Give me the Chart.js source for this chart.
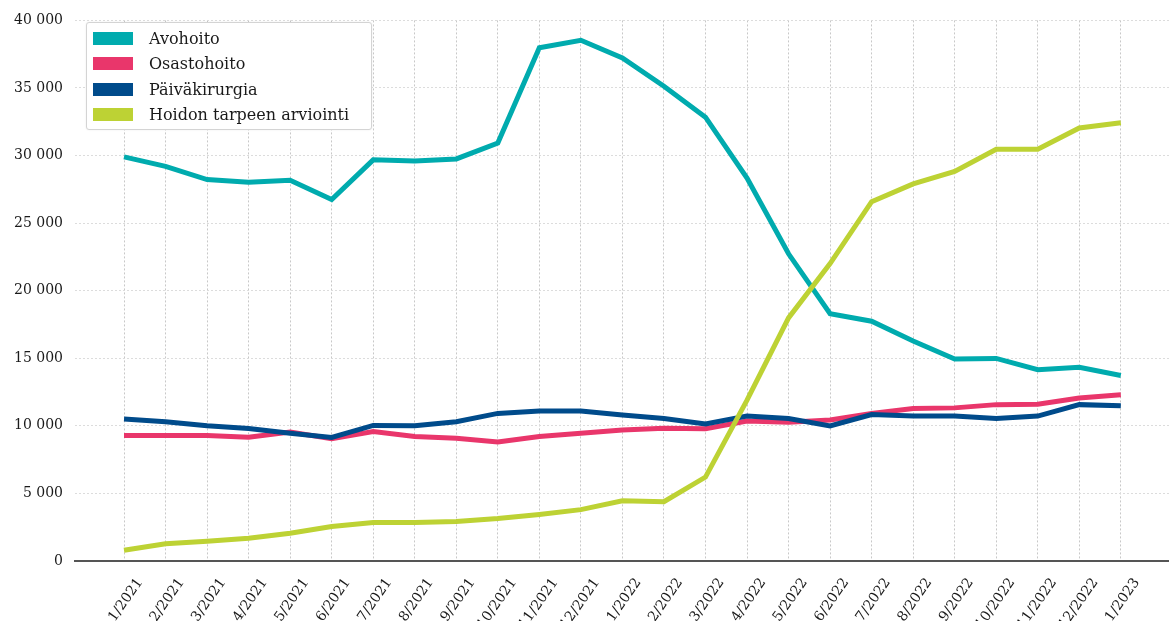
<!DOCTYPE html>
<html>
<head>
<meta charset="utf-8">
<script src="https://cdn.jsdelivr.net/npm/chart.js@4/dist/chart.umd.min.js"></script>
<style>
  html, body { margin: 0; padding: 0; background: #fff; }
  #wrap { position: relative; width: 1169px; height: 621px; }
  #legend {
    position: absolute; left: 86px; top: 22px; width: 284px; height: 106px;
    border: 1px solid #d4d4d4; border-radius: 3px; background: #fff;
    box-shadow: 0 0 2px rgba(0,0,0,0.08);
    font-family: "DejaVu Serif", serif; font-size: 16px; color: #1a1a1a;
    box-sizing: content-box;
  }
  .item { position: absolute; left: 6px; height: 20px; display: flex; align-items: center; }
  .sw { width: 40px; height: 13px; margin-right: 16px; }
</style>
</head>
<body>
<div id="wrap">
  <canvas id="c" width="1169" height="621"></canvas>
  <div id="legend"></div>
</div>
<script>
const labels = ['1/2021','2/2021','3/2021','4/2021','5/2021','6/2021','7/2021','8/2021','9/2021','10/2021','11/2021','12/2021',
  '1/2022','2/2022','3/2022','4/2022','5/2022','6/2022','7/2022','8/2022','9/2022','10/2022','11/2022','12/2022','1/2023'];
const seriesNames = ['Avohoito', 'Osastohoito', 'Päiväkirurgia', 'Hoidon tarpeen arviointi'];
const avohoito = [29900, 29200, 28220, 28020, 28170, 26750, 29680, 29600, 29750, 30930, 37970, 38530,
  37230, 35130, 32840, 28340, 22730, 18300, 17740, 16280, 14940, 14990, 14160, 14330, 13720];
const osastohoito = [9280, 9280, 9280, 9160, 9550, 9040, 9580, 9210, 9090, 8800, 9210, 9450,
  9700, 9820, 9780, 10360, 10260, 10430, 10920, 11280, 11330, 11570, 11600, 12060, 12300];
const paivakirurgia = [10510, 10310, 10000, 9800, 9450, 9140, 10030, 10000, 10310, 10920, 11090, 11090,
  10800, 10550, 10140, 10720, 10550, 9990, 10840, 10720, 10720, 10550, 10720, 11570, 11480];
const hoidonArviointi = [790, 1280, 1470, 1690, 2060, 2550, 2840, 2850, 2920, 3140, 3440, 3800,
  4460, 4390, 6210, 11900, 17990, 22010, 26590, 27900, 28820, 30460, 30460, 32040, 32430];
const yTicks = [0, 5000, 10000, 15000, 20000, 25000, 30000, 35000, 40000];
const colors = ['#00ABAE', '#E9366B', '#004B8B', '#BDD234'];

const toPoints = arr => arr.map((v, i) => ({ x: i, y: v }));
const allSeries = [avohoito, osastohoito, paivakirurgia, hoidonArviointi];
const drawOrder = [4, 3, 2, 1];

const datasets = allSeries.map((arr, k) => ({
  label: seriesNames[k],
  data: toPoints(arr),
  borderColor: colors[k],
  backgroundColor: colors[k],
  borderWidth: 5,
  pointRadius: 0,
  tension: 0,
  order: drawOrder[k],
  borderJoinStyle: 'miter',
  borderCapStyle: 'butt'
}));

const fmt = v => String(v).replace(/\B(?=(\d{3})+(?!\d))/g, ' ');

new Chart(document.getElementById('c'), {
  type: 'line',
  data: { datasets },
  options: {
    responsive: false,
    animation: false,
    layout: { padding: { top: 14, right: 0, left: 0, bottom: 0 } },
    plugins: { legend: { display: false }, tooltip: { enabled: false } },
    scales: {
      x: {
        type: 'linear',
        min: -1.18,
        max: 25.16,
        afterFit: s => { s.height = 60; },
        afterBuildTicks: s => { s.ticks = labels.map((_, i) => ({ value: i })); },
        ticks: {
          autoSkip: false,
          includeBounds: false,
          stepSize: 1,
          maxRotation: 55,
          minRotation: 55,
          padding: 14,
          labelOffset: 16,
          color: '#1a1a1a',
          font: { family: 'DejaVu Serif', size: 14 },
          callback: v => labels[v] ?? ''
        },
        grid: { color: '#c8c8c8', lineWidth: 1, drawTicks: false },
        border: { display: true, color: '#555', width: 2, dash: [2, 2] }
      },
      y: {
        min: 0,
        max: 40000,
        afterFit: s => { s.width = 75; },
        afterBuildTicks: s => { s.ticks = yTicks.map(v => ({ value: v })); },
        ticks: {
          padding: 12,
          color: '#1a1a1a',
          font: { family: 'DejaVu Serif', size: 14 },
          callback: v => fmt(v)
        },
        grid: { color: '#dcdcdc', lineWidth: 1, drawTicks: false },
        border: { display: false, dash: [2, 2] }
      }
    }
  }
});

const legend = document.getElementById('legend');
seriesNames.forEach((name, k) => {
  const it = document.createElement('div');
  it.className = 'item';
  it.style.top = (5 + k * 25.5) + 'px';
  it.innerHTML = '<span class="sw" style="background:' + colors[k] + '"></span><span>' + name + '</span>';
  legend.appendChild(it);
});
</script>
</body>
</html>
